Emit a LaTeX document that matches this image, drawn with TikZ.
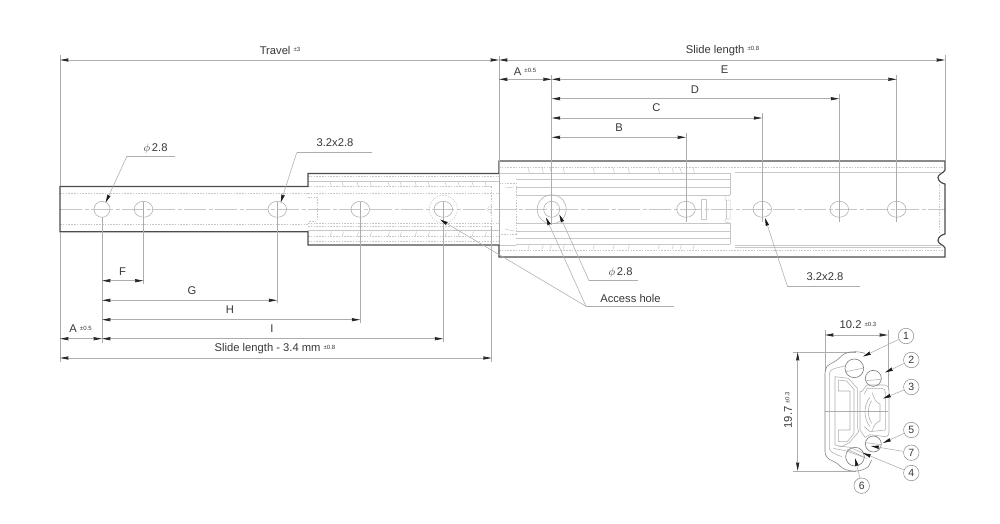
\documentclass[tikz,border=0pt]{standalone}
\usepackage{fontspec}
\setmainfont{Liberation Sans}
\usetikzlibrary{arrows.meta}
\definecolor{ink}{gray}{0.22}
\definecolor{body}{gray}{0.3}
\definecolor{ext}{gray}{0.68}
\definecolor{fine}{gray}{0.78}
\newcommand\tolmark[1]{\raisebox{2.6pt}{\fontsize{6}{7}\selectfont #1}}
\tikzset{
  txt/.style={font=\fontsize{11.2}{13}\selectfont,text=ink,inner sep=0pt},
  outline/.style={draw=body,line width=1.2pt,line join=miter},
  extline/.style={draw=ext,line width=0.55pt},
  finesolid/.style={draw=fine,line width=0.5pt},
  finedash/.style={draw=fine,line width=0.5pt,dash pattern=on 1.6pt off 1.2pt},
  centre/.style={draw=fine,line width=0.55pt,dash pattern=on 22pt off 2.5pt on 4pt off 2.5pt},
  hole/.style={draw=ext,line width=0.55pt},
  dimline/.style={draw=ext,line width=0.7pt,{Stealth[length=8.5pt,width=3.2pt,inset=0.5pt,color=black!85]}-{Stealth[length=8.5pt,width=3.2pt,inset=0.5pt,color=black!85]}},
  leader/.style={draw=ext,line width=0.55pt,-{Stealth[length=8pt,width=3.4pt,inset=0.5pt,color=black!90]}},
  numcirc/.style={circle,draw=ext!80!black,line width=0.5pt,fill=white,minimum size=15.5pt,inner sep=0pt,font=\fontsize{10.5}{12}\selectfont,text=ink},
  sect/.style={draw=ext,line width=0.55pt,line join=round},
  ballshape/.style={draw=ext!70!black,line width=0.6pt},
}
\begin{document}
\begin{tikzpicture}[x=1pt,y=-1pt]
\useasboundingbox (0,0) rectangle (1000,524);
\fill[white] (0,0) rectangle (1000,524);
% hole positions
\foreach \n/\x in {a/102,b/143.5,c/277.3,d/360.3,e/443.3,f/551.7,g/686,h/762.3,i/839.3,j/896.7}{\coordinate (\n) at (\x,209.3);}
\coordinate (L0) at (60,209.3);
\coordinate (R0) at (945,209.3);
% --- interior of right part
\foreach \y in {173.3,179.3,187,195,223,231,238,244}{\draw[finesolid] (516,\y) -- (730,\y);}
\foreach \y in {167.3,250}{\draw[finedash] (499,\y) -- (943,\y);}
\draw[finesolid] (735,172) -- (941,172);
\draw[finesolid] (735,245.3) -- (941,245.3);
\draw[finesolid] (735,246.8) -- (941,246.8);
\draw[finesolid] (730,173.3) -- (730,195) (730,223) -- (730,244);
\draw[finesolid] (730,195) -- (725,196) (725,196) -- (725,200) -- (730,200) -- (730,219) -- (725,219) -- (725,222) -- (730,223);
\draw[finesolid] (726,200) -- (726,219);
\draw[finesolid] (701,199) rectangle (706,219);
\draw[finedash] (939,184) -- (939,234);
\foreach \x in {528,542,550,563,593,613,628,658,672,680,693}{
  \draw[finesolid] (\x,168) -- (\x+1.5,173);
  \draw[finesolid] (\x,249.5) -- (\x+1.5,244.5);
}
% --- overlap box
\draw[finedash] (499,183) -- (516,183) -- (516,234) -- (499,234) -- cycle;
\draw[finesolid] (499,173) -- (516,173) (499,245) -- (516,245);
\draw[finesolid] (505,188) -- (514,187) (505,229) -- (514,231);
% --- interior of middle part
\foreach \y in {176.7,193.3,223,236.7,241.7}{\draw[finedash] (308,\y) -- (499,\y);}
\foreach \y in {181.7,230}{\draw[finesolid] (308,\y) -- (499,\y);}
\foreach \y in {186.7,226}{\draw[finedash] (308,\y) -- (491.7,\y);}
\draw[finedash] (491.7,186.7) -- (491.7,226);
\draw[finedash] (308,197) -- (317,197) -- (317,221) -- (308,221);
\draw[finedash] (486,209.3) -- (491,205.5) -- (491,213) -- cycle;
\foreach \x in {330,342,357,370,388,400,415,428,445,458,472,485}{
  \draw[finesolid] (\x,181.7) -- (\x+1.5,186.7);
  \draw[finesolid] (\x,236.7) -- (\x+1.5,231.7);
}
% --- interior of left part
\foreach \y in {193.3,224.3}{\draw[finedash] (60,\y) -- (308,\y);}
% --- centre line
\draw[centre] (L0) -- (R0);
% --- holes
\foreach \n/\r in {a/8,b/9.3,c/9.3,d/9.3,e/9.3,g/9.3,h/9.3,i/9.3,j/9.3}{
  \draw[hole] (\n) ellipse ({\r} and 8);
}
\draw[hole] (f) circle (8);
\draw[finedash] (e) circle (14);
\draw[hole] (f) circle (14.5);
% --- outlines
\draw[outline] (60,186.5) -- (308,186.5) -- (308,173.5) -- (499,173.5) -- (499,161) -- (945,161) -- (945,170)
  .. controls (944,173) and (938,174) .. (938,177.5) .. controls (938,181) and (942,183.5) .. (945,184)
  -- (945,234) .. controls (942,234.5) and (938,237) .. (938,240.5) .. controls (938,244) and (944,245) .. (945,248)
  -- (945,257) -- (499,257) -- (499,245) -- (308,245) -- (308,231.7) -- (60,231.7) -- cycle;
% --- extension lines, top
\draw[extline] (60,55) -- (60,186);
\draw[extline] (499,56) -- (499,245);
\draw[extline] (945,55) -- (945,161);
\draw[extline] (f) ++(0,-134) -- ++(0,150);
\draw[extline] (j) ++(0,-134) -- ++(0,147);
\draw[extline] (i) ++(0,-115) -- ++(0,128);
\draw[extline] (h) ++(0,-96) -- ++(0,109);
\draw[extline] (g) ++(0,-76) -- ++(0,89);
% --- extension lines, bottom
\draw[extline] (60,232) -- (60,362);
\draw[extline] (a) ++(0,8) -- (102,343);
\draw[extline] (b) ++(0,-7) -- (143.5,284);
\draw[extline] (c) ++(0,-7) -- (277.3,303);
\draw[extline] (d) ++(0,-7) -- (360.3,323);
\draw[extline] (e) ++(0,-7) -- (443.3,342);
\draw[extline] (491.7,226) -- (491.7,362);
% --- dimensions, top
\draw[dimline] (60,60) -- (499,60);
\draw[dimline] (499,60) -- (945,60);
\draw[dimline] (499,79.3) -- (551.7,79.3);
\draw[dimline] (551.7,79.3) -- (896.7,79.3);
\draw[dimline] (551.7,98.7) -- (839.3,98.7);
\draw[dimline] (551.7,118) -- (762.3,118);
\draw[dimline] (551.7,137.3) -- (686,137.3);
\node[txt] (t1) at (280,50.5) {Travel \tolmark{±3}};
\node[txt] (t2) at (722.5,50.5) {Slide length \tolmark{±0.8}};
\node[txt] (t3) at (525,71.5) {A \tolmark{±0.5}};
\node[txt] (tE) at (724.5,70) {E};
\node[txt] (tD) at (695,89.5) {D};
\node[txt] (tC) at (656.5,108) {C};
\node[txt] (tB) at (619,127.5) {B};
% --- dimensions, bottom
\draw[dimline] (102,280.7) -- (143.5,280.7);
\draw[dimline] (102,300.3) -- (277.3,300.3);
\draw[dimline] (102,319.7) -- (360.3,319.7);
\draw[dimline] (102,338.7) -- (443.3,338.7);
\draw[dimline] (60,338.7) -- (102,338.7);
\draw[dimline] (60,358) -- (491.7,358);
\node[txt] (tF) at (122.5,271.5) {F};
\node[txt] (tG) at (192,290.5) {G};
\node[txt] (tH) at (230,310) {H};
\node[txt] (tI) at (272,329) {I};
\node[txt] (tA) at (80.5,329) {A \tolmark{±0.5}};
\node[txt] (tS) at (275,349) {Slide length - 3.4 mm \tolmark{±0.8}};
% --- leaders
\coordinate (p1) at (127,156);
\draw[extline] (175,156) -- (p1);
\draw[leader] (p1) -- (105.7,202.5);
\node[txt] (tp1) at (155.5,148.5) {$\phi$\,2.8};
\coordinate (p2) at (296.7,152.7);
\draw[extline] (372,152.7) -- (p2);
\draw[leader] (p2) -- (280.7,202.5);
\node[txt] (tp2) at (335,143) {3.2x2.8};
\coordinate (p3) at (586,306.3);
\draw[extline] (674,306.3) -- (p3);
\draw[leader] (p3) -- (440,219.5);
\draw[leader] (p3) -- (546,217.5);
\node[txt] (tp3) at (630.5,298) {Access hole};
\coordinate (p4) at (589,280.7);
\draw[extline] (637.7,280.7) -- (p4);
\draw[leader] (p4) -- (559.3,214.5);
\node[txt] (tp4) at (620.5,273) {$\phi$\,2.8};
\coordinate (p5) at (787.3,286);
\draw[extline] (860,286) -- (p5);
\draw[leader] (p5) -- (765,218);
\node[txt] (tp5) at (825,276.5) {3.2x2.8};
% --- cross-section dims
\draw[extline] (825,330) -- (825,372);
\draw[extline] (888,330) -- (888,390);
\draw[extline] (793,352) -- (856,352);
\draw[extline] (793,471) -- (856,471);
\draw[extline] (825,411.7) -- (888,411.7);
\draw[dimline] (825,335) -- (888,335);
\draw[dimline] (797.7,352) -- (797.7,471);
\node[txt] (t102) at (858,325) {10.2 \tolmark{±0.3}};
\node[txt,rotate=90] (t197) at (788,410) {19.7 \tolmark{±0.3}};
% --- cross-section shape, in coordinates of a 3x crop
\begin{scope}[shift={(770,310)},x=0.3333pt,y=-0.3333pt]
\draw[sect,draw=ext!75!black] (285,130) .. controls (260,122) and (235,125) .. (222,132)
  .. controls (210,140) and (205,150) .. (190,157) .. controls (172,165) and (165,172) .. (165,190)
  -- (165,425) .. controls (165,440) and (175,448) .. (192,455)
  .. controls (208,462) and (210,472) .. (225,478) .. controls (245,486) and (275,486) .. (295,470) -- (305,450);
\draw[sect] (225,168) -- (195,175) .. controls (183,178) and (178,185) .. (178,195) -- (178,415) .. controls (178,425) and (190,430) .. (215,440);
\draw[sect] (195,200) -- (235,205) -- (262,235) -- (262,350) -- (266,365) -- (238,398) -- (215,410) -- (195,405) -- cycle;
\draw[sect] (205,210) -- (205,243) -- (240,243) -- (240,360) -- (205,360) -- (205,395) -- (232,395) -- (252,370) -- (252,238) -- (230,213) -- cycle;
\draw[sect] (190,415) -- (230,423) -- (290,445);
\draw[sect] (205,408) -- (240,412) -- (285,432);
\draw[sect] (275,245) -- (290,225) -- (345,225) .. controls (353,226) and (357,232) .. (357,240) -- (357,368) .. controls (357,376) and (352,380) .. (345,380)
  -- (300,374) -- (285,382) -- (270,360) -- (270,245) -- cycle;
\draw[sect] (283,252) -- (292,235) -- (335,235) .. controls (342,235) and (346,240) .. (346,247) -- (346,360) -- (300,365) -- (283,350);
\draw[sect] (307,248) .. controls (312,270) and (322,280) .. (330,282) -- (330,333) .. controls (322,335) and (310,345) .. (307,362);
\draw[sect] (300,262) .. controls (280,285) and (280,325) .. (300,350);
\draw[sect] (305,272) .. controls (292,290) and (292,320) .. (305,340);
% balls
\foreach \n/\x/\y/\r in {b1/253/175/28,b2/310/205/24,b3/310/402/24,b4/255/440/28}{
  \draw[ballshape] (\x,\y) circle (\r);
  \coordinate (\n) at (\x,\y);
}
\draw[sect] (228,185) -- (278,175) (287,212) -- (333,208) (287,398) -- (333,404) (232,418) -- (280,440);
\end{scope}
% call-outs
\node[numcirc] (n1) at (906,336) {1};
\node[numcirc] (n2) at (911.3,360) {2};
\node[numcirc] (n3) at (911.3,387) {3};
\node[numcirc] (n5) at (911.3,430) {5};
\node[numcirc] (n7) at (911.3,452.7) {7};
\node[numcirc] (n4) at (911.3,473) {4};
\node[numcirc] (n6) at (861.7,485.7) {6};
\coordinate (c1) at (863,356.5);
\coordinate (c2) at (885,372.5);
\coordinate (c3) at (883,398.5);
\coordinate (c5) at (883,443);
\coordinate (c7) at (871,446);
\coordinate (c4) at (863,453);
\coordinate (c6) at (855,458);
\draw[leader] (n1) -- (c1);
\draw[leader] (n2) -- (c2);
\draw[leader] (n3) -- (c3);
\draw[leader] (n5) -- (c5);
\draw[leader] (n7) -- (c7);
\draw[leader] (n4) -- (c4);
\draw[leader] (n6) -- (c6);
\end{tikzpicture}
\end{document}
